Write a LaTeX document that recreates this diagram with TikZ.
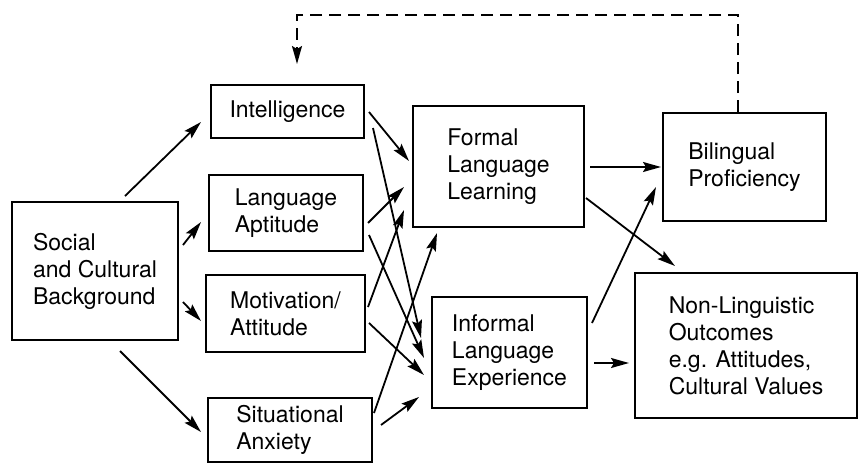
\documentclass[tikz,border=0pt]{standalone}
\usepackage{fontspec}
\setmainfont{TeX Gyre Heros}
\usetikzlibrary{arrows.meta}
\begin{document}
\begin{tikzpicture}[x=1pt,y=-1pt,
    box/.style={draw, line width=2pt, align=left, inner sep=0pt, font=\fontsize{23}{27}\selectfont},
    arr/.style={-{Stealth[length=18pt,width=10pt,inset=3pt]}, line width=1.8pt}]
\useasboundingbox (0,0) rectangle (859,463);

\node[box, minimum width=166pt, minimum height=138pt] (social) at (95,271) {Social\\and Cultural\\Background};
\node[box, minimum width=153pt, minimum height=53pt] (intel) at (287.5,111.5) {Intelligence};
\node[box, minimum width=154pt, minimum height=76pt] (apt) at (286,213) {Language\\Aptitude};
\node[box, minimum width=159pt, minimum height=77pt] (motiv) at (285.5,313.5) {Motivation/\\Attitude};
\node[box, minimum width=164pt, minimum height=64pt] (anx) at (290,429.5) {Situational\\Anxiety};
\node[box, minimum width=171pt, minimum height=121pt] (formal) at (498.5,166.5) {Formal\\Language\\Learning};
\node[box, minimum width=155pt, minimum height=111pt] (informal) at (509.5,352.5) {Informal\\Language\\Experience};
\node[box, minimum width=163pt, minimum height=108pt] (biling) at (744.5,167) {Bilingual\\Proficiency};
\node[box, minimum width=222pt, minimum height=145pt] (nonling) at (746,345.5) {Non-Linguistic\\Outcomes\\e.g. Attitudes,\\Cultural Values};

% background to the four factors
\draw[arr] ([shift={(30,-5)}]social.north) -- ([shift={(-9,10.5)}]intel.west);
\draw[arr] ([shift={(4,-26)}]social.east) -- ([shift={(-7,9)}]apt.west);
\draw[arr] ([shift={(4,31)}]social.east) -- ([shift={(-4,7.5)}]motiv.west);
\draw[arr] ([shift={(25,10)}]social.south) -- ([shift={(-6,2.5)}]anx.west);

% factors to formal learning
\draw[arr] ([shift={(4,0.5)}]intel.east) -- ([shift={(-3,-5.5)}]formal.west);
\draw[arr] ([shift={(4,10)}]apt.east) -- ([shift={(-8,20.5)}]formal.west);
\draw[arr] ([shift={(2,-6.5)}]motiv.east) -- ([shift={(-8,43.5)}]formal.west);
\draw[arr] ([shift={(1,-16.5)}]anx.east) -- ([shift={(-61.5,5)}]formal.south);

% factors to informal experience
\draw[arr] ([shift={(8,16.5)}]intel.east) -- ([shift={(-10,-14.5)}]informal.west);
\draw[arr] ([shift={(5,22)}]apt.east) -- ([shift={(-7,5.5)}]informal.west);
\draw[arr] ([shift={(3,9.5)}]motiv.east) -- ([shift={(-7,22.5)}]informal.west);
\draw[arr] ([shift={(8,-4.5)}]anx.east) -- ([shift={(-12,44.5)}]informal.west);

% outcomes
\draw[arr] ([shift={(5,0.5)}]formal.east) -- ([shift={(-1,0)}]biling.west);
\draw[arr] ([shift={(1,31.5)}]formal.east) -- ([shift={(-71,-6)}]nonling.north);
\draw[arr] ([shift={(4,-29.5)}]informal.east) -- ([shift={(-6,20)}]biling.west);
\draw[arr] ([shift={(6,10.5)}]informal.east) -- ([shift={(-5,17.5)}]nonling.west);

% feedback
\draw[arr, dash pattern=on 12pt off 7pt] ([xshift=-6.5pt]biling.north) -- ++(0,-97) -| ([shift={(9.5,-20)}]intel.north);

\end{tikzpicture}
\end{document}
